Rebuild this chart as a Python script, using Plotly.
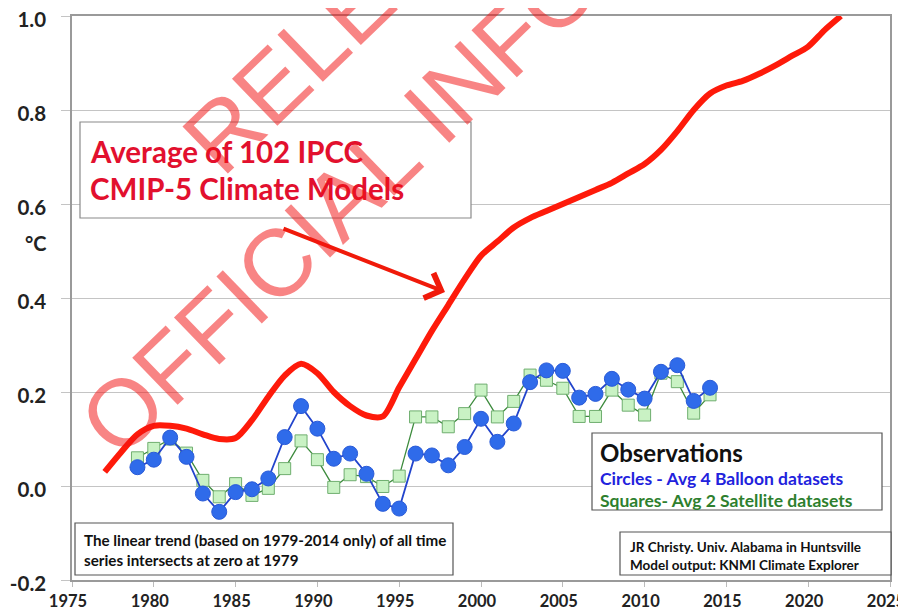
import plotly.graph_objects as go

# ---------------- data ----------------
model_years = list(range(1977, 2023))
model_vals = [0.030, 0.072, 0.110, 0.128, 0.128, 0.122, 0.110, 0.100, 0.102, 0.140,
              0.190, 0.235, 0.260, 0.240, 0.200, 0.170, 0.150, 0.148, 0.210, 0.270,
              0.330, 0.385, 0.440, 0.490, 0.520, 0.550, 0.570, 0.585, 0.600, 0.615,
              0.630, 0.645, 0.665, 0.685, 0.715, 0.755, 0.800, 0.835, 0.852, 0.862,
              0.877, 0.895, 0.915, 0.935, 0.970, 1.000]

obs_years = list(range(1979, 2015))
balloon = [0.040, 0.056, 0.103, 0.062, -0.016, -0.055, -0.013, -0.007, 0.016, 0.104,
           0.170, 0.122, 0.058, 0.069, 0.026, -0.038, -0.048, 0.069, 0.065, 0.044,
           0.083, 0.143, 0.094, 0.133, 0.221, 0.246, 0.245, 0.188, 0.196, 0.228,
           0.205, 0.186, 0.243, 0.257, 0.181, 0.209]
satellite = [0.060, 0.080, 0.100, 0.070, 0.012, -0.023, 0.005, -0.020, -0.005, 0.037,
             0.096, 0.056, -0.003, 0.024, 0.020, -0.001, 0.021, 0.147, 0.147, 0.126,
             0.154, 0.204, 0.147, 0.180, 0.236, 0.225, 0.208, 0.148, 0.148, 0.204,
             0.172, 0.151, 0.240, 0.222, 0.155, 0.194]

x_ticks = [1975, 1980, 1985, 1990, 1995, 2000, 2005, 2010, 2015, 2020, 2025]
y_ticks = [-0.2, 0.0, 0.2, 0.4, 0.6, 0.8, 1.0]
y_tick_text = ["-0.2", "0.0", "0.2", "0.4", "0.6", "0.8", "1.0"]

# ---------------- figure ----------------
FONT = "Lato"
fig = go.Figure()

fig.add_trace(go.Scatter(
    x=model_years, y=model_vals, mode="lines",
    line=dict(color="#fe1a0a", width=6, shape="spline", smoothing=0.8),
    hoverinfo="skip", showlegend=False))

fig.add_trace(go.Scatter(
    x=obs_years, y=satellite, mode="lines+markers",
    line=dict(color="#3d8b3d", width=1.3),
    marker=dict(symbol="square", size=12, color="#c9f2c4",
                line=dict(color="#6fae6f", width=1)),
    hoverinfo="skip", showlegend=False))

fig.add_trace(go.Scatter(
    x=obs_years, y=balloon, mode="lines+markers",
    line=dict(color="#2244cc", width=1.8),
    marker=dict(symbol="circle", size=15, color="#2f6bea",
                line=dict(color="#2a5bd8", width=1)),
    hoverinfo="skip", showlegend=False))

# ---------------- boxes / notes (positions in page pixels) ----------------
W, H, L, T = 818.0, 564.0, 72.0, 16.0
def px(x):
    return (x - L) / W
def py(y):
    return (T + H - y) / H

def box(x0, y0, x1, y1, color="#8a8a8a"):
    fig.add_shape(type="rect", xref="paper", yref="paper",
                  x0=px(x0), y0=py(y1), x1=px(x1), y1=py(y0),
                  line=dict(color=color, width=1.2), fillcolor="white", layer="above")

box(80, 122, 471, 218)
box(592, 433, 882, 510, color="#555555")
box(620, 532, 891, 575, color="#555555")
box(75, 523, 453, 575, color="#555555")

def txt(x, y, s, size, color, bold=True):
    fig.add_annotation(xref="paper", yref="paper", x=px(x), y=py(y),
                       xanchor="left", yanchor="middle", showarrow=False,
                       text=("<b>%s</b>" % s) if bold else s,
                       font=dict(family=FONT, size=size, color=color))

txt(88, 151, "Average of 102 IPCC", 29.5, "#e2102e")
txt(88, 188, "CMIP-5 Climate Models", 29.5, "#e2102e")
txt(598, 452, "Observations", 24, "#111111")
txt(598, 478, "Circles - Avg 4 Balloon datasets", 17.5, "#2222dd")
txt(598, 500, "Squares- Avg 2 Satellite datasets", 17.5, "#2e7f2e")
txt(628, 547, "JR Christy. Univ. Alabama in Huntsville", 13.5, "#111111")
txt(628, 565, "Model output: KNMI Climate Explorer", 13.5, "#111111")
txt(82, 540, "The linear trend (based on 1979-2014 only) of all time", 15.2, "#111111")
txt(82, 560, "series intersects at zero at 1979", 15.2, "#111111")

# axis unit label
fig.add_annotation(xref="paper", yref="paper", x=px(36), y=py(243),
                   xanchor="center", yanchor="middle", showarrow=False,
                   text="<b>°C</b>", font=dict(family=FONT, size=20, color="#222222"))

# arrow
fig.add_annotation(xref="paper", yref="paper", x=px(445), y=py(292),
                   ax=-163, ay=-64, axref="pixel", ayref="pixel",
                   text="", showarrow=True, arrowhead=4, arrowsize=1.3,
                   arrowwidth=4, arrowcolor="#f01a0a")

# watermark
wm_color = "rgba(242,20,20,0.52)"
fig.add_annotation(xref="paper", yref="paper", x=px(570), y=py(-20),
                   xanchor="center", yanchor="middle", showarrow=False,
                   text="OFFICIAL INFORMATION ACT", textangle=-44,
                   font=dict(family="Liberation Sans", size=95, color=wm_color))
fig.add_annotation(xref="paper", yref="paper", x=px(590), y=py(-222),
                   xanchor="center", yanchor="middle", showarrow=False,
                   text="RELEASED UNDER THE", textangle=-44,
                   font=dict(family="Liberation Sans", size=95, color=wm_color))

# the page adds an 8px body margin, so the figure is 8px smaller in each direction
fig.update_layout(
    width=898, height=607, autosize=False,
    margin=dict(l=64, r=16, t=8, b=35, autoexpand=False),
    paper_bgcolor="white", plot_bgcolor="white",
    xaxis=dict(range=[1975, 2025], tickvals=x_ticks, showgrid=False, zeroline=False,
               automargin=False, ticklabeloverflow="allow", ticklabelshift=-4,
               showline=True, mirror=True, linecolor="#9a9a9a", linewidth=1.5,
               ticks="outside", ticklen=5, tickcolor="#bbbbbb",
               tickfont=dict(family=FONT, size=16.5, color="#222222", weight="bold")),
    yaxis=dict(range=[-0.2, 1.0], tickvals=y_ticks, ticktext=y_tick_text,
               automargin=False, ticklabelstandoff=11, ticklabelshift=4,
               ticklabeloverflow="allow",
               showgrid=True, gridcolor="#c4c4c4", gridwidth=1, zeroline=False,
               showline=True, mirror=True, linecolor="#9a9a9a", linewidth=1.5,
               ticks="outside", ticklen=9, tickcolor="#c4c4c4",
               tickfont=dict(family=FONT, size=20.5, color="#222222", weight="bold")),
)

fig.write_html("out.html")
